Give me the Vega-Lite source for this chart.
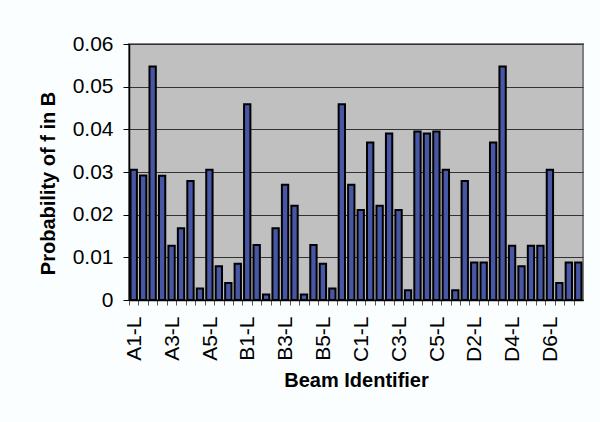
{
  "$schema": "https://vega.github.io/schema/vega-lite/v6.json",
  "autosize": "none",
  "width": 454,
  "height": 256,
  "padding": {"left": 129, "top": 44, "right": 17, "bottom": 122},
  "background": "#fafeff",
  "config": {
    "view": {"fill": "#c0c0c0", "stroke": "#808080", "strokeWidth": 2},
    "font": "Liberation Sans"
  },
  "data": {
    "values": [
      {"beam": "A1-L", "p": 0.0305}, {"beam": "A1-R", "p": 0.0292}, {"beam": "A2-L", "p": 0.0547}, {"beam": "A2-R", "p": 0.0291},
      {"beam": "A3-L", "p": 0.0127}, {"beam": "A3-R", "p": 0.0168}, {"beam": "A4-L", "p": 0.0279}, {"beam": "A4-R", "p": 0.0027},
      {"beam": "A5-L", "p": 0.0305}, {"beam": "A5-R", "p": 0.0079}, {"beam": "A6-L", "p": 0.0040}, {"beam": "A6-R", "p": 0.0085},
      {"beam": "B1-L", "p": 0.0459}, {"beam": "B1-R", "p": 0.0129}, {"beam": "B2-L", "p": 0.0013}, {"beam": "B2-R", "p": 0.0168},
      {"beam": "B3-L", "p": 0.0270}, {"beam": "B3-R", "p": 0.0221}, {"beam": "B4-L", "p": 0.0013}, {"beam": "B4-R", "p": 0.0129},
      {"beam": "B5-L", "p": 0.0085}, {"beam": "B5-R", "p": 0.0027}, {"beam": "B6-L", "p": 0.0459}, {"beam": "B6-R", "p": 0.0270},
      {"beam": "C1-L", "p": 0.0211}, {"beam": "C1-R", "p": 0.0369}, {"beam": "C2-L", "p": 0.0221}, {"beam": "C2-R", "p": 0.0390},
      {"beam": "C3-L", "p": 0.0211}, {"beam": "C3-R", "p": 0.0023}, {"beam": "C4-L", "p": 0.0395}, {"beam": "C4-R", "p": 0.0390},
      {"beam": "C5-L", "p": 0.0395}, {"beam": "C5-R", "p": 0.0305},
      {"beam": "D1-L", "p": 0.0023}, {"beam": "D1-R", "p": 0.0279}, {"beam": "D2-L", "p": 0.0088}, {"beam": "D2-R", "p": 0.0088},
      {"beam": "D3-L", "p": 0.0369}, {"beam": "D3-R", "p": 0.0547}, {"beam": "D4-L", "p": 0.0127}, {"beam": "D4-R", "p": 0.0079},
      {"beam": "D5-L", "p": 0.0127}, {"beam": "D5-R", "p": 0.0127}, {"beam": "D6-L", "p": 0.0305}, {"beam": "D6-R", "p": 0.0040},
      {"beam": "D7-L", "p": 0.0088}, {"beam": "D7-R", "p": 0.0088}
    ]
  },
  "mark": {"type": "bar", "fill": "#4757a5", "stroke": "#000000", "strokeWidth": 2},
  "encoding": {
    "x": {
      "field": "beam",
      "type": "nominal",
      "sort": null,
      "scale": {"paddingInner": 0.33, "paddingOuter": 0.165},
      "axis": {
        "title": "Beam Identifier",
        "titleFont": "Liberation Sans",
        "titleFontSize": 20,
        "titleFontWeight": "bold",
        "titleColor": "#000000",
        "titlePadding": 9,
        "labelFont": "Liberation Sans",
        "labelFontSize": 21,
        "labelColor": "#000000",
        "labelAngle": -90,
        "labelPadding": 11,
        "labelExpr": "indexof(['A1-L','A3-L','A5-L','B1-L','B3-L','B5-L','C1-L','C3-L','C5-L','D2-L','D4-L','D6-L'], datum.label) >= 0 ? datum.label : ''",
        "labelOverlap": false,
        "bandPosition": 0.5,
        "tickOffset": -4.73,
        "labelOffset": 5.5,
        "tickSize": 5,
        "tickColor": "#555555",
        "domainColor": "#000000",
        "domainWidth": 1.5
      }
    },
    "y": {
      "field": "p",
      "type": "quantitative",
      "scale": {"domain": [0, 0.06], "nice": false},
      "axis": {
        "title": "Probability of f in B",
        "titleFont": "Liberation Sans",
        "titleFontSize": 20,
        "titleFontWeight": "bold",
        "titleColor": "#000000",
        "titlePadding": 14,
        "titleY": 139,
        "values": [0, 0.01, 0.02, 0.03, 0.04, 0.05, 0.06],
        "format": "~g",
        "labelFont": "Liberation Sans",
        "labelFontSize": 21,
        "labelColor": "#000000",
        "labelPadding": 10,
        "tickSize": 6,
        "tickColor": "#000000",
        "domainColor": "#000000",
        "domainWidth": 1.5,
        "grid": true,
        "gridColor": "#333333",
        "gridWidth": 1
      }
    }
  }
}
